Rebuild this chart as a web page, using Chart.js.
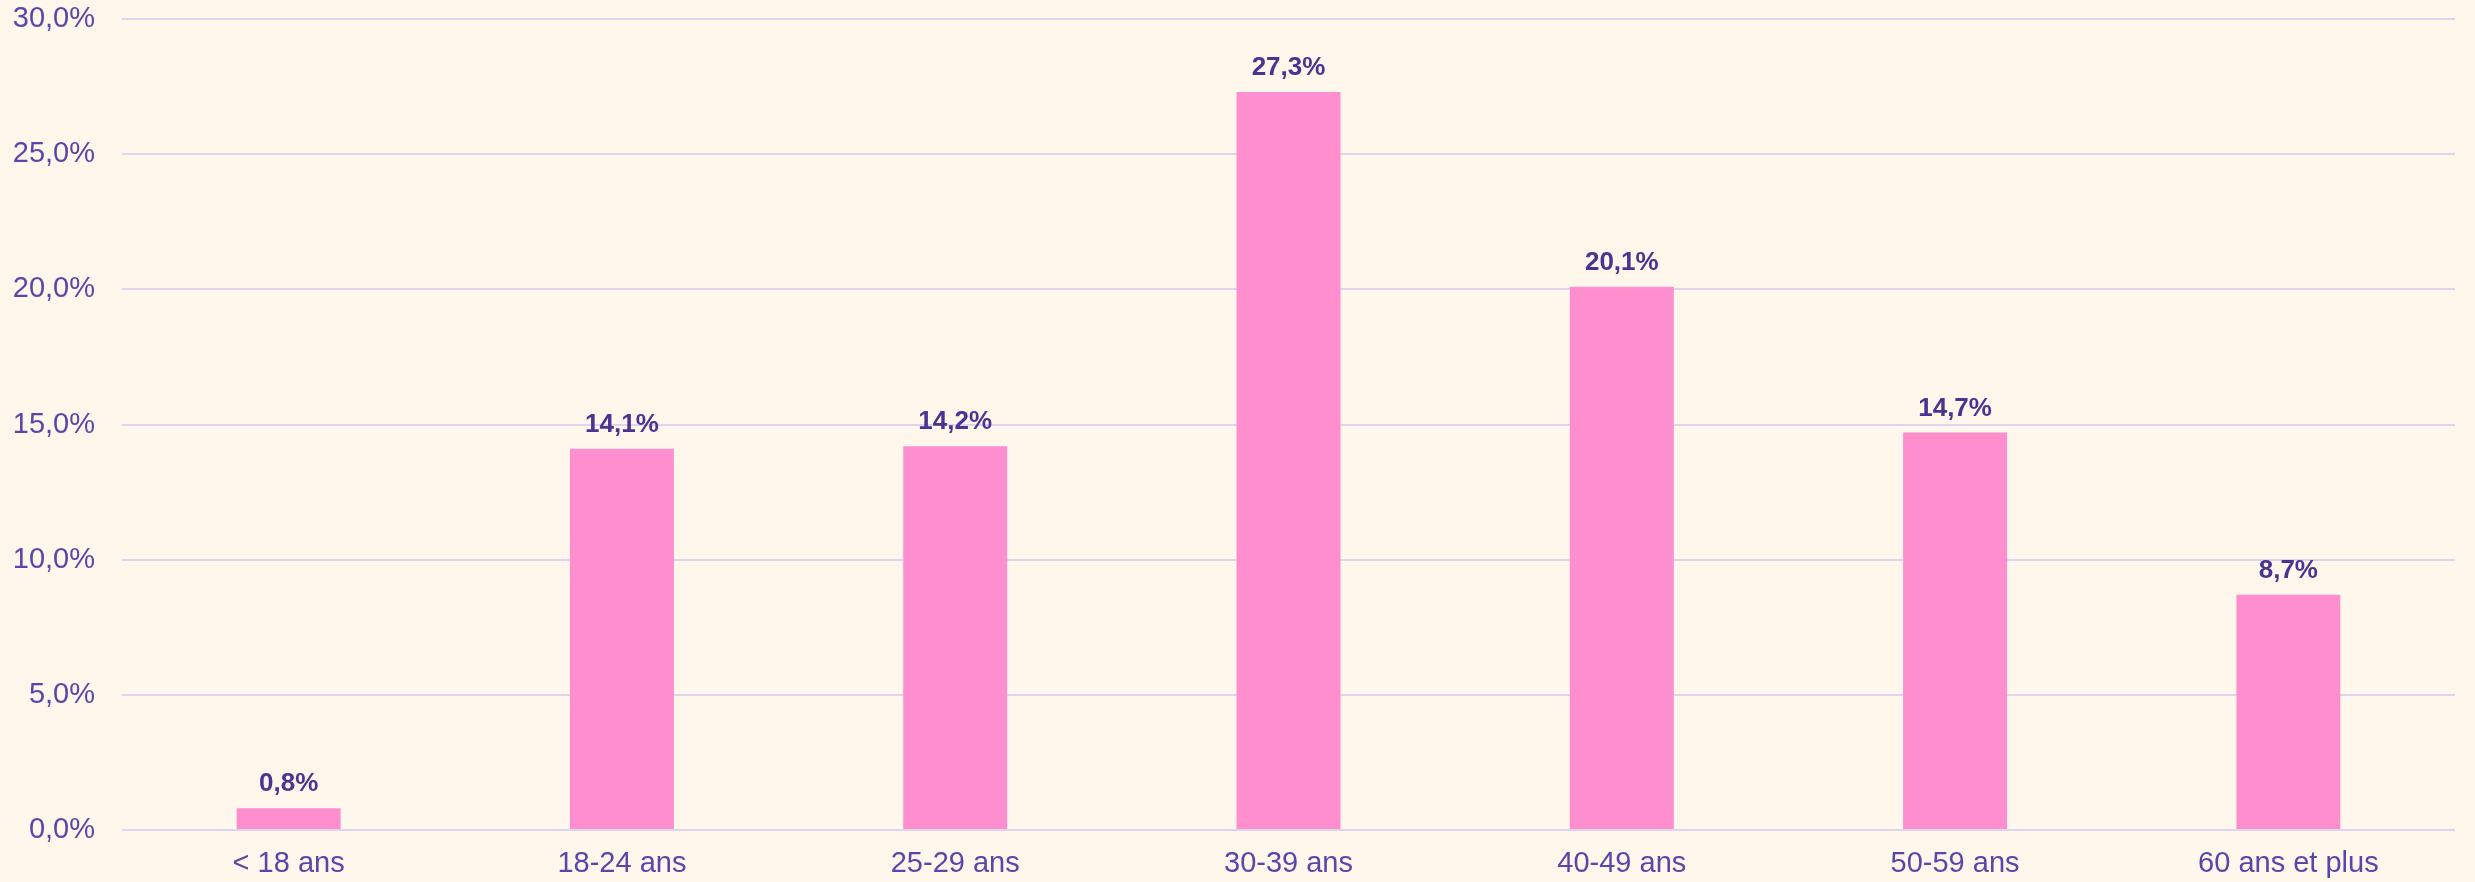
<!DOCTYPE html>
<html lang="fr">
<head>
<meta charset="utf-8">
<title>Répartition par âge</title>
<script src="https://cdn.jsdelivr.net/npm/chart.js@4/dist/chart.umd.min.js"></script>
<style>
  html, body { margin: 0; padding: 0; background: #FFF6EC; }
  #wrap { width: 2475px; height: 882px; position: relative; }
</style>
</head>
<body>
<div id="wrap"><canvas id="chart" width="2475" height="882"></canvas></div>
<script>
// Age groups and their share (in %)
const categories = ['< 18 ans', '18-24 ans', '25-29 ans', '30-39 ans', '40-49 ans', '50-59 ans', '60 ans et plus'];
const shares = [0.8, 14.1, 14.2, 27.3, 20.1, 14.7, 8.7];
const yTicks = [0, 5, 10, 15, 20, 25, 30];

const FONT = '"Liberation Sans", Arial, Helvetica, sans-serif';
const fmt = v => v.toFixed(1).replace('.', ',') + '%';

// Writes each bar's value just above it
const valueLabels = {
  id: 'valueLabels',
  afterDatasetsDraw(chart) {
    const ctx = chart.ctx;
    const meta = chart.getDatasetMeta(0);
    ctx.save();
    ctx.font = 'bold 26px ' + FONT;
    ctx.fillStyle = '#4B3491';
    ctx.textAlign = 'center';
    ctx.textBaseline = 'alphabetic';
    meta.data.forEach((bar, i) => {
      ctx.fillText(fmt(shares[i]), bar.x, bar.y - 17);
    });
    ctx.restore();
  }
};

new Chart(document.getElementById('chart'), {
  type: 'bar',
  data: {
    labels: categories,
    datasets: [{
      data: shares,
      backgroundColor: '#FF8ECF',
      borderWidth: 0,
      categoryPercentage: 1,
      barPercentage: 0.312
    }]
  },
  options: {
    responsive: false,
    animation: false,
    layout: { padding: { left: 13, right: 20, top: 0, bottom: 0 } },
    plugins: { legend: { display: false }, tooltip: { enabled: false } },
    scales: {
      x: {
        grid: { display: false, drawTicks: false },
        border: { display: false },
        ticks: {
          color: '#5A46A8',
          font: { family: FONT, size: 29 },
          padding: 17,
          maxRotation: 0,
          autoSkip: false
        },
        afterFit(scale) {
          scale.height = 52;
          scale.paddingLeft = 0;
          scale.paddingRight = 0;
        }
      },
      y: {
        min: 0,
        max: 30,
        afterBuildTicks(scale) { scale.ticks = yTicks.map(v => ({ value: v })); },
        grid: { color: '#DDD4F0', lineWidth: 2, drawTicks: false },
        border: { display: false },
        ticks: {
          color: '#5A46A8',
          font: { family: FONT, size: 29 },
          padding: 27,
          callback: v => fmt(v)
        },
        afterFit(scale) {
          scale.width = 109;
          scale.paddingTop = 19;
          scale.paddingBottom = 0;
        }
      }
    }
  },
  plugins: [valueLabels]
});
</script>
</body>
</html>
